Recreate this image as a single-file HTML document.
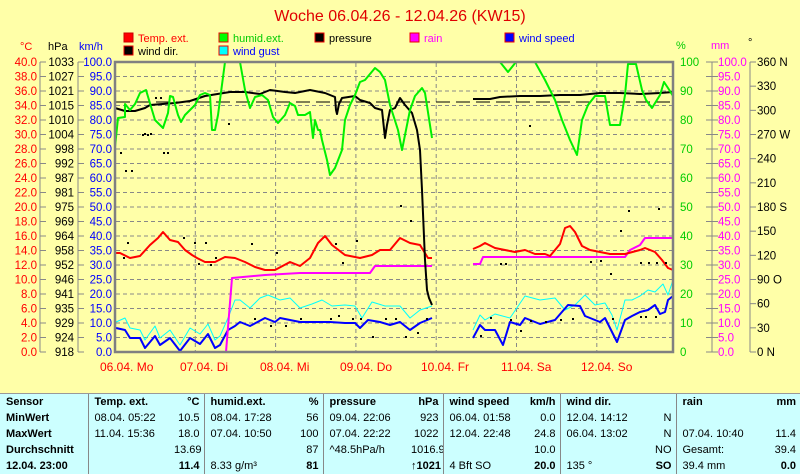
<!DOCTYPE html>
<html><head><meta charset="utf-8"><style>
html,body{margin:0;padding:0;background:#FFFFA8;}
body{width:800px;height:473px;overflow:hidden;position:relative;font-family:"Liberation Sans",sans-serif;}
svg{position:absolute;left:0;top:0}
#tbl{position:absolute;left:0;top:393px;width:800px;height:80px;background:#CCFFFF;border-top:1px solid #999;}
#tbl table{border-collapse:collapse;font-size:11px;font-family:"Liberation Sans",sans-serif;table-layout:fixed;width:800px;}
#tbl td{height:16px;padding:0 4px 0 6px;white-space:nowrap;overflow:hidden;}
.b{font-weight:bold}
.r{text-align:right}
.c{border-left:1px solid #888}
</style></head><body>
<svg width="800" height="393" font-family="Liberation Sans, sans-serif">
<text x="400" y="21" text-anchor="middle" fill="#e00000" font-size="16">Woche 06.04.26 - 12.04.26 (KW15)</text>
<g font-size="11">
<rect x="124" y="33" width="9" height="9" fill="#f00" stroke="#c00"/><text x="138" y="42" fill="#f00">Temp. ext.</text>
<rect x="219" y="33" width="9" height="9" fill="#0f0" stroke="#e00"/><text x="233" y="42" fill="#0c0">humid.ext.</text>
<rect x="315" y="33" width="9" height="9" fill="#000" stroke="#e00"/><text x="329" y="42" fill="#000">pressure</text>
<rect x="410" y="33" width="9" height="9" fill="#f0f" stroke="#e00"/><text x="424" y="42" fill="#f0f">rain</text>
<rect x="505" y="33" width="9" height="9" fill="#00f" stroke="#e00"/><text x="519" y="42" fill="#00f">wind speed</text>
<rect x="124" y="46" width="9" height="9" fill="#000" stroke="#e00"/><text x="138" y="55" fill="#000">wind dir.</text>
<rect x="219" y="46" width="9" height="9" fill="#0ff" stroke="#e00"/><text x="233" y="55" fill="#00f">wind gust</text>
</g>
<g font-size="11">
<text x="20" y="50" fill="#f00">°C</text><text x="48" y="50" fill="#000">hPa</text><text x="79" y="50" fill="#00f">km/h</text>
<text x="676" y="49" fill="#0c0">%</text><text x="711" y="49" fill="#f0f">mm</text><text x="748" y="46" fill="#000">°</text>
</g>
<rect x="115" y="62" width="558" height="290" fill="#FFFFA8"/>
<g id="grid" stroke="#888" stroke-dasharray="4,3" stroke-width="1"></g>
<g id="labels" font-size="11.5"></g>
<line x1="116" y1="102" x2="672" y2="102" stroke="#000" stroke-dasharray="14,6"/>
<g fill="none" stroke-width="2" stroke-linejoin="round">
<polyline stroke="#0ff" stroke-width="1" points="116,322 125,318 130,328 140,330 145,340 155,326 160,338 170,330 180,345 190,328 200,334 208,324 215,340 220,336 228,318 235,300 240,300 250,308 260,298 268,295 280,300 290,298 300,308 312,304 322,300 332,306 345,305 355,306 362,318 372,302 385,306 400,306 410,318 420,310 432,306"/>
<polyline stroke="#0ff" stroke-width="1" points="473,330 480,315 485,320 495,314 510,318 525,296 540,300 555,298 565,310 575,305 585,295 595,305 605,303 612,315 617,330 625,300 632,300 640,296 648,290 655,292 663,284 668,295 673,280"/>
<polyline stroke="#00f" points="116,328 125,330 130,338 140,338 145,348 155,336 160,345 170,338 180,351 190,338 200,344 208,334 215,348 220,345 228,330 235,326 240,322 250,326 265,318 275,322 280,318 300,322 320,322 330,322 345,323 355,323 360,328 368,320 380,322 390,325 400,322 410,330 420,323 432,318"/>
<polyline stroke="#00f" points="473,338 480,325 485,330 495,330 503,345 510,322 520,325 525,318 540,324 555,320 568,305 580,306 585,316 600,322 605,318 617,342 625,320 632,316 640,312 648,310 655,305 660,314 665,312 668,300 673,296"/>
<polyline stroke="#f0f" points="116,352 226,352 232,278 265,275 300,273 370,273 375,266 432,266"/>
<polyline stroke="#f0f" points="473,264 480,264 483,257 625,257 630,250 640,245 645,238 673,238"/>
<polyline stroke="#f00" points="115,253 120,253 130,258 140,256 150,245 158,238 163,232 170,240 178,242 185,250 192,255 197,258 205,262 215,262 225,257 235,258 245,262 255,267 265,270 275,270 290,262 300,266 310,258 318,243 325,236 332,245 345,255 360,258 372,255 380,250 390,250 400,238 410,243 420,245 428,258 432,258"/>
<polyline stroke="#f00" points="473,249 480,246 485,243 495,248 505,250 515,252 525,250 535,254 545,254 550,256 560,244 565,228 570,226 575,232 582,246 590,250 600,252 610,254 625,254 640,250 645,248 655,252 662,260 668,268 673,270"/>
<polyline stroke="#000" points="115,108 125,111 135,111 145,108 150,105 175,103 190,101 205,96 230,92 245,92 260,94 270,90 285,92 295,93 310,90 325,93 335,97 336,110 337,114 339,104 342,98 355,96 360,100 370,103 375,108 382,110 385,138 387,125 390,110 395,108 400,98 405,105 412,113 417,130 420,150 422,190 425,260 427,290 429,298 432,305"/>
<polyline stroke="#000" points="473,99 490,99 500,97 520,96 540,96 560,95 580,95 600,93 620,93 640,94 660,93 673,92"/>
<polyline stroke="#00f000" points="115,147 118,118 125,117 125,104 130,110 135,104 140,93 146,90 152,110 155,120 160,125 163,128 168,113 170,96 173,97 178,115 181,122 185,115 190,110 195,105 200,95 205,93 210,95 212,130 215,130 218,115 225,62 240,62 245,90 250,108 255,97 262,95 268,100 273,117 278,123 285,115 290,103 295,106 298,115 305,115 310,112 313,138 315,120 318,130 320,130 322,140 327,160 330,175 335,168 342,150 345,120 350,105 355,95 360,82 365,80 375,68 380,72 385,80 390,105 398,130 402,150 405,135 410,110 415,96 422,88 425,93 432,138"/>
<polyline stroke="#00f000" points="474,62 500,62 508,72 516,62 535,62 545,80 555,100 562,120 570,140 577,155 582,120 588,105 595,96 605,96 610,125 620,125 625,95 628,64 636,64 642,90 646,100 652,108 660,95 664,82 668,88 673,96"/>
</g>
<g id="dots" fill="#000"></g>
<rect x="115" y="62" width="558" height="290" fill="none" stroke="#808080" stroke-width="2.5"/>
<g font-size="12" fill="#f00">
<text x="100" y="371">06.04. Mo</text><text x="180" y="371">07.04. Di</text><text x="260" y="371">08.04. Mi</text><text x="340" y="371">09.04. Do</text><text x="421" y="371">10.04. Fr</text><text x="501" y="371">11.04. Sa</text><text x="581" y="371">12.04. So</text>
</g>
</svg>
<div id="tbl"><table>
<colgroup><col style="width:88px"><col style="width:80px"><col style="width:36px"><col style="width:86px"><col style="width:33px"><col style="width:82px"><col style="width:38px"><col style="width:72px"><col style="width:45px"><col style="width:88px"><col style="width:28px"><col style="width:80px"><col style="width:44px"></colgroup>
<tr class="b"><td>Sensor</td><td class="c">Temp. ext.</td><td class="r">°C</td><td class="c">humid.ext.</td><td class="r">%</td><td class="c">pressure</td><td class="r">hPa</td><td class="c">wind speed</td><td class="r">km/h</td><td class="c">wind dir.</td><td class="r"></td><td class="c">rain</td><td class="r">mm</td></tr>
<tr><td class="b">MinWert</td><td class="c">08.04. 05:22</td><td class="r">10.5</td><td class="c">08.04. 17:28</td><td class="r">56</td><td class="c">09.04. 22:06</td><td class="r">923</td><td class="c">06.04. 01:58</td><td class="r">0.0</td><td class="c">12.04. 14:12</td><td class="r">N</td><td class="c"></td><td></td></tr>
<tr><td class="b">MaxWert</td><td class="c">11.04. 15:36</td><td class="r">18.0</td><td class="c">07.04. 10:50</td><td class="r">100</td><td class="c">07.04. 22:22</td><td class="r">1022</td><td class="c">12.04. 22:48</td><td class="r">24.8</td><td class="c">06.04. 13:02</td><td class="r">N</td><td class="c">07.04. 10:40</td><td class="r">11.4</td></tr>
<tr><td class="b">Durchschnitt</td><td class="c"></td><td class="r">13.69</td><td class="c"></td><td class="r">87</td><td class="c">^48.5hPa/h</td><td class="r">1016.9</td><td class="c"></td><td class="r">10.0</td><td class="c"></td><td class="r">NO</td><td class="c">Gesamt:</td><td class="r">39.4</td></tr>
<tr><td class="b">12.04. 23:00</td><td class="c"></td><td class="r b">11.4</td><td class="c">8.33 g/m³</td><td class="r b">81</td><td class="c"></td><td class="r b">↑1021</td><td class="c">4 Bft SO</td><td class="r b">20.0</td><td class="c">135 °</td><td class="r b">SO</td><td class="c">39.4 mm</td><td class="r b">0.0</td></tr>
</table></div>
<script>
var ns="http://www.w3.org/2000/svg";
function el(p,t,a,txt){var e=document.createElementNS(ns,t);for(var k in a)e.setAttribute(k,a[k]);if(txt!==undefined)e.textContent=txt;p.appendChild(e);return e;}
var g=document.getElementById('grid');
for(var i=1;i<20;i++){var y=62+14.5*i;el(g,'line',{x1:116,x2:672,y1:y,y2:y});}
for(var d=1;d<7;d++){var x=115+80.3*d;el(g,'line',{x1:x,x2:x,y1:63,y2:351});}
var L=document.getElementById('labels');
var hpa=[1033,1027,1021,1015,1010,1004,998,992,987,981,975,969,964,958,952,946,941,935,929,924,918];
el(L,'line',{x1:40,x2:40,y1:62,y2:352,stroke:'#888'});
el(L,'line',{x1:78,x2:78,y1:62,y2:352,stroke:'#888'});
el(L,'line',{x1:712,x2:712,y1:62,y2:352,stroke:'#888'});
el(L,'line',{x1:750,x2:750,y1:62,y2:352,stroke:'#888'});
for(var i=0;i<=20;i++){var y=62+14.5*i;
el(L,'text',{x:37,y:y+4,'text-anchor':'end',fill:'#f00'},(40-2*i).toFixed(1));
el(L,'line',{x1:40,x2:46,y1:y,y2:y,stroke:'#888'});
el(L,'text',{x:74,y:y+4,'text-anchor':'end',fill:'#000'},hpa[i]);
el(L,'line',{x1:78,x2:84,y1:y,y2:y,stroke:'#888'});
el(L,'text',{x:112,y:y+4,'text-anchor':'end',fill:'#00f'},(100-5*i).toFixed(1));
el(L,'line',{x1:706,x2:718,y1:y,y2:y,stroke:'#888'});
el(L,'text',{x:718,y:y+4,fill:'#f0f'},(100-5*i).toFixed(1));
if(i%2==0){el(L,'text',{x:680,y:y+4,fill:'#0c0'},100-5*i);}
}
var dl=['360 N','330','300','270 W','240','210','180 S','150','120','90 O','60','30','0 N'];
for(var i=0;i<13;i++){var y=62+290/12*i;el(L,'line',{x1:750,x2:756,y1:y,y2:y,stroke:'#888'});el(L,'text',{x:757,y:y+4,fill:'#000'},dl[i]);}
var D=document.getElementById('dots');
var pts=[[142,134],[147,134],[155,97],[160,97],[120,152],[125,170],[131,170],[144,133],[150,133],[163,152],[167,152],[127,242],[123,257],[183,237],[198,263],[194,242],[205,242],[210,264],[228,123],[215,257],[251,243],[276,252],[270,325],[285,325],[254,318],[300,318],[330,318],[338,315],[352,318],[360,318],[372,336],[385,318],[395,318],[405,336],[417,332],[426,318],[342,262],[335,243],[356,240],[400,205],[410,220],[480,335],[490,317],[510,319],[530,320],[545,321],[560,319],[572,318],[590,261],[600,260],[620,230],[640,262],[648,262],[656,262],[665,262],[628,210],[672,210],[529,125],[658,208],[500,263],[505,263],[610,273],[640,316],[645,316],[655,316],[612,318],[520,330]];
pts.forEach(function(p){el(D,'rect',{x:p[0],y:p[1],width:2,height:2});});
</script>
</body></html>
